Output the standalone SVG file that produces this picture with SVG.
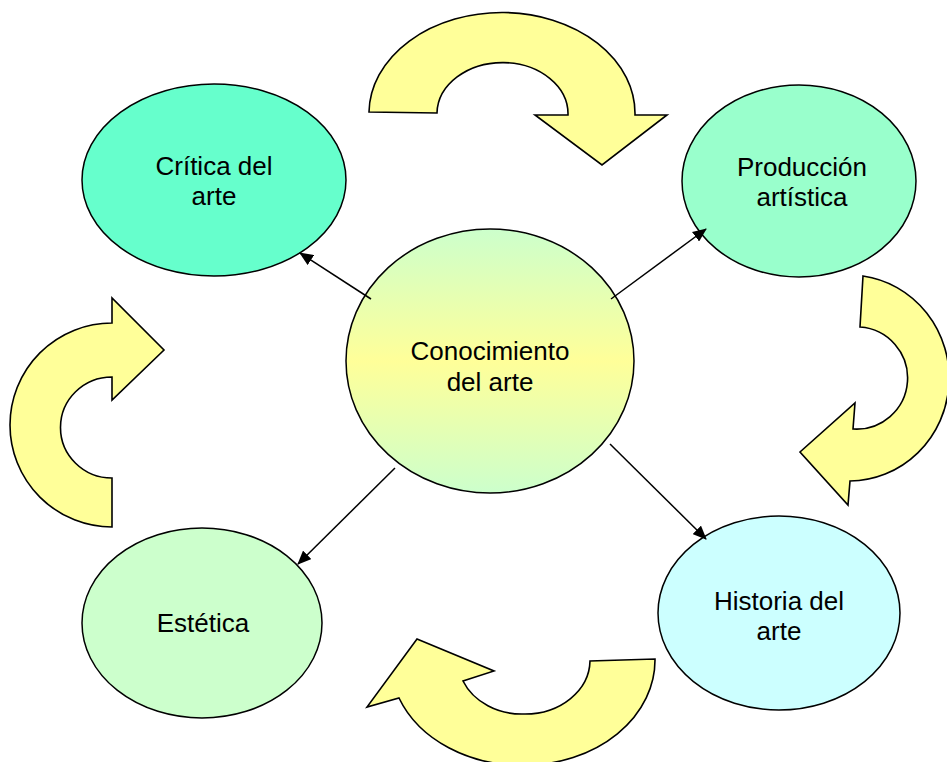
<svg xmlns="http://www.w3.org/2000/svg" width="947" height="762" viewBox="0 0 947 762">
<style>
.node{stroke:#000;stroke-width:1.5}
.lbl{font-family:"Liberation Sans",Arial,sans-serif;font-size:26px;fill:#000;text-anchor:middle}
.curve{fill:#ffff99;stroke:#000;stroke-width:1.6;stroke-linejoin:miter}
.conn{stroke:#000;stroke-width:1.5;fill:none;marker-end:url(#ah)}
</style>
<defs>
<linearGradient id="g" x1="0" y1="0" x2="0" y2="1">
<stop offset="0" stop-color="#ccffcc"/>
<stop offset="0.5" stop-color="#ffff99"/>
<stop offset="1" stop-color="#ccffcc"/>
</linearGradient>
<marker id="ah" markerUnits="userSpaceOnUse" markerWidth="14" markerHeight="12" refX="13" refY="6" orient="auto">
<path d="M0,0 L14,6 L0,12 Z" fill="#000"/>
</marker>
</defs>
<rect width="947" height="762" fill="#fff"/>
<g id="curved-arrows">
<path class="curve" d="M369,112 A133,101 0 0 1 635,115 L667,115 L602,165 L535,115 L568,115 A65,51 0 0 0 437,113 Z"/>
<path class="curve" d="M863,276 A100,103 0 0 1 850,481 L848,505 L800,452 L855,403 L853,429 A51,51 0 0 0 860,327 Z"/>
<path class="curve" d="M112,527 A102,102 0 0 1 112,323 L112,298 L164,350 L112,400 L112,377 A51,50 0 0 0 112,478 Z"/>
<path class="curve" d="M655,659 A130,105 0 0 1 525,765 A130,105 0 0 1 399,698 L367,707 L417,639 L494,671 L463,681 A64,54 0 0 0 525,714 A65,54 0 0 0 590,661 Z"/>
</g>
<g id="critica">
<ellipse class="node" cx="214" cy="180" rx="132" ry="96" fill="#66ffcc"/>
<text class="lbl" x="214" y="175">Crítica del</text>
<text class="lbl" x="214" y="205">arte</text>
</g>
<g id="produccion">
<ellipse class="node" cx="799" cy="181" rx="117" ry="96" fill="#99ffcc"/>
<text class="lbl" x="802" y="176">Producción</text>
<text class="lbl" x="802" y="206">artística</text>
</g>
<g id="estetica">
<ellipse class="node" cx="202" cy="623" rx="120" ry="95" fill="#ccffcc"/>
<text class="lbl" x="203" y="632">Estética</text>
</g>
<g id="historia">
<ellipse class="node" cx="779" cy="613" rx="121" ry="97" fill="#ccffff"/>
<text class="lbl" x="779" y="610">Historia del</text>
<text class="lbl" x="779" y="640">arte</text>
</g>
<g id="conocimiento">
<ellipse class="node" cx="490" cy="361" rx="144" ry="132" fill="url(#g)"/>
<text class="lbl" x="490" y="360">Conocimiento</text>
<text class="lbl" x="490" y="391">del arte</text>
</g>
<g id="connectors">
<line class="conn" x1="371" y1="299" x2="300" y2="253"/>
<line class="conn" x1="611" y1="299" x2="706" y2="229"/>
<line class="conn" x1="610" y1="444" x2="706" y2="539"/>
<line class="conn" x1="395" y1="468" x2="298" y2="564"/>
</g>
</svg>
